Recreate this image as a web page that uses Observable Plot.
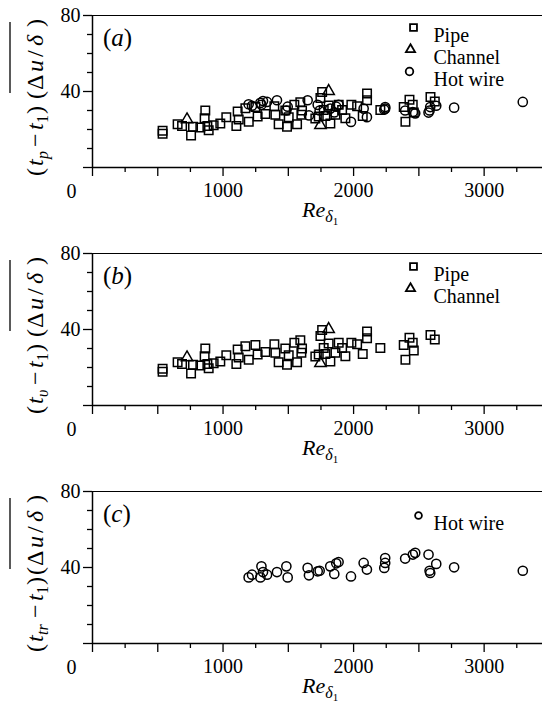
<!DOCTYPE html>
<html><head><meta charset="utf-8">
<script src="https://cdn.jsdelivr.net/npm/d3@7"></script>
<script src="https://cdn.jsdelivr.net/npm/@observablehq/plot@0.6"></script>
<style>
body{margin:0;background:#fff;}
svg{display:block;}
</style></head><body><div id="chart"></div>
<script>
// ---- data ----
const pipeRe = [537,537,652,686,755,770,826,859,864,880,890,928,979,1025,1102,1112,1120,1171,1197,1248,1265,1324,1393,1401,1426,1477,1490,1503,1546,1567,1592,1600,1605,1707,1733,1746,1759,1771,1784,1809,1822,1861,1886,1912,1937,1983,2027,2070,2103,2103,2205,2384,2397,2428,2453,2461,2589,2622];
const pipeT  = [17.8,19.3,22.8,21.8,16.9,21.4,21.0,25.9,30.0,21.8,19.6,22.3,23.2,26.4,21.8,29.5,25.3,31.2,24.1,31.8,26.8,28.2,32.2,27.7,22.8,30.0,21.4,26.4,33.0,22.8,34.3,27.8,30.0,25.8,26.8,36.6,39.7,30.3,27.1,32.6,23.2,27.7,33.0,30.3,25.9,33.0,32.2,27.1,38.9,35.4,30.3,31.8,24.1,35.7,33.0,28.9,37.1,34.8];
const channelRe = [724,1746,1809];
const channelT  = [25.3,22.3,40.2];
const hotRe  = [1196,1222,1286,1294,1306,1337,1413,1485,1495,1648,1658,1725,1740,1821,1852,1867,1885,1980,2077,2102,2235,2242,2242,2395,2454,2472,2574,2582,2587,2633,2770,3296];
const hotTp  = [33.3,32.5,34.0,33.0,35.0,34.5,35.4,30.0,32.0,35.4,27.4,33.0,30.0,31.0,29.0,32.0,33.0,24.0,31.0,26.5,30.5,31.8,31.0,30.0,29.2,28.5,28.9,30.0,31.8,32.5,31.5,34.5];
const hotTtr = [34.8,36.2,34.8,40.6,37.6,36.2,37.6,40.6,34.8,39.8,35.9,38.0,38.3,40.6,36.6,42.2,42.9,35.3,42.4,38.9,39.8,42.4,45.0,44.7,46.8,47.7,46.8,38.3,37.1,41.9,40.1,38.3];

const xDomain = [0, 3447];
const yDomain = [0, 80];
const xMajorTicks = [0,500,1000,1500,2000,2500,3000];
const xMinorTicks = [250,750,1250,1750,2250,2750,3250];
const xTickLabels = [1000,2000,3000];
const yMajorTicks = [0,40,80];
const yMinorTicks = [10,20,30,50,60,70];
const yTickLabels = [40,80];
const cornerLabel = ["0"];
const seriesNames = {pipe: "Pipe", channel: "Channel", hot: "Hot wire"};
const panelLetters = ["a","b","c"];
const ySubs = ["p","υ","tr"];

const FONT = "'Liberation Serif', 'Times New Roman', serif";
const MT = 15, PH = 152;

function makePanel(idx, height, series, legendRows, legendTop) {
  const marks = [
    Plot.ruleY([yDomain[1]], {stroke: "black", strokeWidth: 1.2}),
    Plot.axisY({ticks: yMinorTicks, tickSize: 5, tickFormat: () => "", label: null, strokeWidth: 1.3}),
    Plot.axisY({ticks: yMajorTicks, tickSize: 9, tickPadding: 3, strokeWidth: 1.3,
      tickFormat: d => yTickLabels.includes(d) ? String(d) : "", label: null}),
    Plot.axisX({ticks: xMinorTicks, tickSize: 5, tickFormat: () => "", label: null, strokeWidth: 1.3}),
    Plot.axisX({ticks: xMajorTicks, tickSize: 9, tickPadding: 6, strokeWidth: 1.3,
      tickFormat: d => xTickLabels.includes(d) ? String(d) : "", label: null}),
    Plot.ruleX([xDomain[0]], {stroke: "black", strokeWidth: 1.5}),
    Plot.ruleY([yDomain[0]], {stroke: "black", strokeWidth: 1.5}),
    Plot.text(cornerLabel, {x: () => xDomain[0], y: () => yDomain[0], text: d => d, dx: -21, dy: 24})
  ];
  const sym = {pipe: {symbol: "square", r: 4.8}, channel: {symbol: "triangle", r: 4.2}, hot: {symbol: "circle", r: 4.6}};
  const legSym = {pipe: {symbol: "square", r: 3.9}, channel: {symbol: "triangle", r: 3.4}, hot: {symbol: "circle", r: idx === 2 ? 3.4 : 3.8}};
  for (const s of series) {
    const idxs = d3.range(s.re.length);
    marks.push(Plot.dot(idxs, {x: i => s.re[i], y: i => s.t[i], symbol: sym[s.key].symbol, r: sym[s.key].r,
      stroke: "black", strokeWidth: 1.5, fill: "none"}));
  }
  legendRows.forEach((row, k) => {
    const dy = legendTop + k * 22;
    marks.push(Plot.dot([row.key], {frameAnchor: "top-left", dx: row.dx, dy, symbol: legSym[row.key].symbol,
      r: legSym[row.key].r, stroke: "black", strokeWidth: 1.8, fill: "none"}));
    marks.push(Plot.text([seriesNames[row.key]], {frameAnchor: "top-left", dx: 341, dy, text: d => d,
      textAnchor: "start", fontSize: 20}));
  });
  const svg = Plot.plot({
    width: 542, height,
    marginLeft: 92, marginRight: 0, marginTop: MT, marginBottom: height - MT - PH,
    x: {domain: xDomain},
    y: {domain: yDomain},
    style: {fontFamily: FONT, fontSize: "20px", background: "white", color: "black", overflow: "visible"},
    marks
  });
  const s = d3.select(svg);
  // panel letter
  const pl = s.append("text").attr("x", 103).attr("y", MT + 31).attr("text-anchor", "start")
    .attr("font-size", 25).attr("font-family", FONT).attr("fill", "black");
  pl.append("tspan").text("(");
  pl.append("tspan").attr("font-style", "italic").text(panelLetters[idx]);
  pl.append("tspan").text(")");
  // x label
  const xl = s.append("text").attr("x", 302).attr("y", MT + PH + 50).attr("text-anchor", "start")
    .attr("font-size", 22).attr("font-family", FONT).attr("fill", "black");
  xl.append("tspan").attr("font-style", "italic").text("Re");
  xl.append("tspan").attr("font-style", "italic").attr("font-size", 16).attr("dy", 5).text("δ");
  xl.append("tspan").attr("font-size", 11).attr("dy", 3).text("1");
  // y label (rotated), glyph start positions along the reading direction
  const sh = ySubs[idx].length > 1 ? 5 : 0;
  const pieces = [
    {t: "(", x: 0},
    {t: "t", x: 10, it: true},
    {t: ySubs[idx], x: 17, it: true, sub: true},
    {t: "−", x: 29 + sh},
    {t: "t", x: 46 + sh, it: true},
    {t: "1", x: 53 + sh, sub: true},
    {t: ")", x: 62 + sh},
    {t: "(", x: 77},
    {t: "Δ", x: 86},
    {t: "u", x: 104, it: true},
    {t: "/", x: 119},
    {t: "δ", x: 130, it: true},
    {t: ")", x: 149}
  ];
  const g = s.append("g").attr("transform", `translate(43,${MT + 161}) rotate(-90)`);
  const yl = g.append("text").attr("font-size", 24).attr("font-family", FONT).attr("fill", "black")
    .attr("text-anchor", "start");
  for (const p of pieces) {
    const ts = yl.append("tspan").attr("x", p.x).attr("y", p.sub ? 5 : 0).text(p.t);
    if (p.it) ts.attr("font-style", "italic");
    if (p.sub) ts.attr("font-size", 16);
  }
  g.append("line").attr("x1", 83).attr("x2", 154).attr("y1", -33).attr("y2", -33)
    .attr("stroke", "black").attr("stroke-width", 1.3);
  return svg;
}

const root = document.getElementById("chart");
root.appendChild(makePanel(0, 238, [
  {key: "pipe", re: pipeRe, t: pipeT},
  {key: "channel", re: channelRe, t: channelT},
  {key: "hot", re: hotRe, t: hotTp}
], [{key: "pipe", dx: 321}, {key: "channel", dx: 318}, {key: "hot", dx: 317}], 12));
root.appendChild(makePanel(1, 238, [
  {key: "pipe", re: pipeRe, t: pipeT},
  {key: "channel", re: channelRe, t: channelT}
], [{key: "pipe", dx: 321}, {key: "channel", dx: 318}], 13));
root.appendChild(makePanel(2, 236, [
  {key: "hot", re: hotRe, t: hotTtr}
], [{key: "hot", dx: 326}], 24));
</script></body></html>
